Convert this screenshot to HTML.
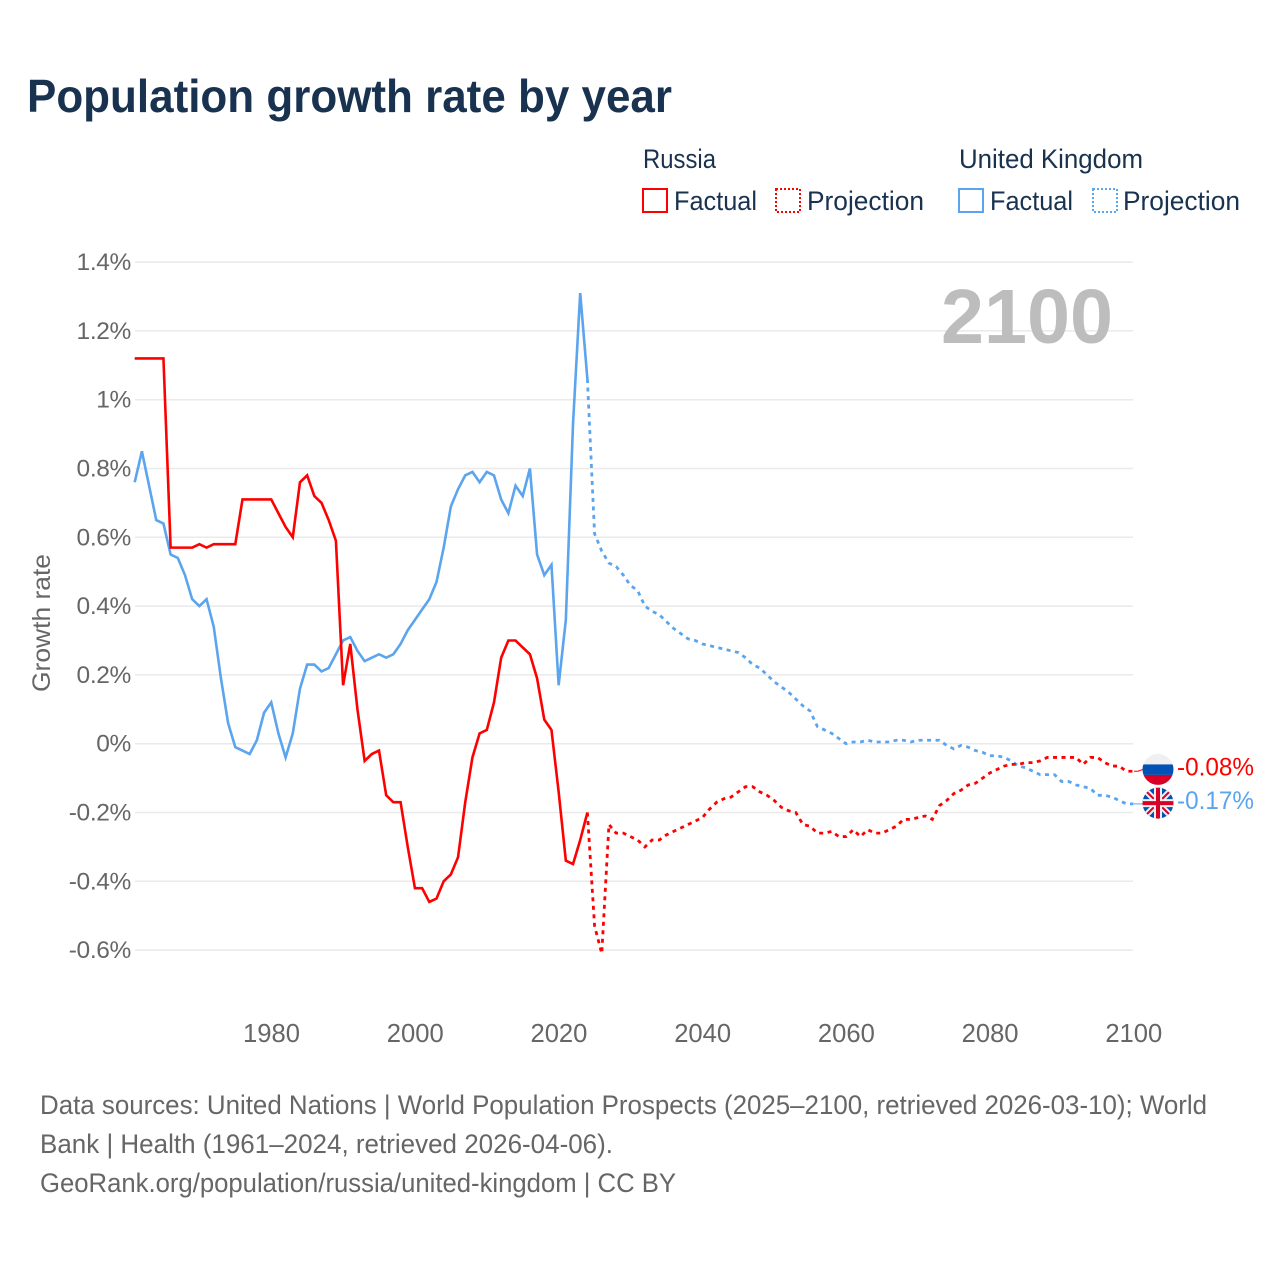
<!DOCTYPE html>
<html lang="en">
<head>
<meta charset="utf-8">
<title>Population growth rate by year</title>
<style>
html,body{margin:0;padding:0;background:#fff;}
svg{display:block;font-family:"Liberation Sans",sans-serif;}
</style>
</head>
<body>
<svg id="chart" width="1280" height="1280" viewBox="0 0 1280 1280" xmlns="http://www.w3.org/2000/svg">
  <defs>
    <clipPath id="flag-clip-ru"><circle cx="0" cy="0" r="15.5"/></clipPath>
    <clipPath id="flag-clip-uk"><circle cx="0" cy="0" r="15.5"/></clipPath>
  </defs>
  <rect width="1280" height="1280" fill="#ffffff"/>
  <text x="27" y="112" font-size="46" font-weight="700" fill="#18324f" textLength="645" lengthAdjust="spacingAndGlyphs">Population growth rate by year</text>

  <g font-size="27" fill="#18324f">
    <text x="643" y="168" textLength="73" lengthAdjust="spacingAndGlyphs">Russia</text>
    <text x="959" y="168" textLength="184" lengthAdjust="spacingAndGlyphs">United Kingdom</text>
    <rect x="643" y="189" width="24" height="23" fill="none" stroke="#ff0000" stroke-width="2"/>
    <text x="674" y="210" textLength="83" lengthAdjust="spacingAndGlyphs">Factual</text>
    <rect x="776" y="189" width="24" height="23" fill="none" stroke="#ff0000" stroke-width="2" stroke-dasharray="2 2"/>
    <text x="807" y="210" textLength="117" lengthAdjust="spacingAndGlyphs">Projection</text>
    <rect x="959" y="189" width="24" height="23" fill="none" stroke="#5ba4ee" stroke-width="2"/>
    <text x="990" y="210" textLength="83" lengthAdjust="spacingAndGlyphs">Factual</text>
    <rect x="1093" y="189" width="24" height="23" fill="none" stroke="#5ba4ee" stroke-width="2" stroke-dasharray="2 2"/>
    <text x="1123" y="210" textLength="117" lengthAdjust="spacingAndGlyphs">Projection</text>
  </g>

  <g id="grid"></g>
  <g id="y-ticks"></g>
  <g id="x-ticks"></g>
  <text transform="translate(50,623) rotate(-90)" text-anchor="middle" font-size="25" fill="#666666" textLength="138" lengthAdjust="spacingAndGlyphs">Growth rate</text>
  <text x="1113" y="343" text-anchor="end" font-size="77" font-weight="700" fill="#bdbdbd" textLength="172" lengthAdjust="spacingAndGlyphs">2100</text>

  <g id="series"></g>

  <g id="flag-russia">
    <g clip-path="url(#flag-clip-ru)">
      <rect x="-16" y="-16" width="32" height="11" fill="#f0f0f0"/>
      <rect x="-16" y="-5" width="32" height="10.5" fill="#0052b4"/>
      <rect x="-16" y="5.5" width="32" height="11" fill="#d80027"/>
    </g>
  </g>
  <g id="flag-uk">
    <g clip-path="url(#flag-clip-uk)">
      <rect x="-16" y="-16" width="32" height="32" fill="#0052b4"/>
      <path d="M-16-16L16 16M16-16L-16 16" stroke="#f0f0f0" stroke-width="6"/>
      <path d="M-16-16L16 16M16-16L-16 16" stroke="#d80027" stroke-width="2"/>
      <path d="M0-16V16M-16 0H16" stroke="#f0f0f0" stroke-width="8"/>
      <path d="M0-16V16M-16 0H16" stroke="#d80027" stroke-width="4"/>
    </g>
  </g>
  <text id="end-label-russia" x="1177" y="775" font-size="25" fill="#ff0000" textLength="77" lengthAdjust="spacingAndGlyphs"></text>
  <text id="end-label-uk" x="1177" y="809" font-size="25" fill="#5ba4ee" textLength="77" lengthAdjust="spacingAndGlyphs"></text>

  <g font-size="26.5" fill="#666666">
    <text x="40" y="1114" textLength="1167" lengthAdjust="spacingAndGlyphs">Data sources: United Nations | World Population Prospects (2025–2100, retrieved 2026-03-10); World</text>
    <text x="40" y="1153" textLength="573" lengthAdjust="spacingAndGlyphs">Bank | Health (1961–2024, retrieved 2026-04-06).</text>
    <text x="40" y="1192" textLength="636" lengthAdjust="spacingAndGlyphs">GeoRank.org/population/russia/united-kingdom | CC BY</text>
  </g>
</svg>
<script>
const factualStartYear = 1961;
const projectionStartYear = 2024;
const yTickValues = [-0.6, -0.4, -0.2, 0, 0.2, 0.4, 0.6, 0.8, 1, 1.2, 1.4];
const yTickLabels = ["-0.6%", "-0.4%", "-0.2%", "0%", "0.2%", "0.4%", "0.6%", "0.8%", "1%", "1.2%", "1.4%"];
const xTickYears = [1980, 2000, 2020, 2040, 2060, 2080, 2100];
const russiaFactual = [1.12,1.12,1.12,1.12,1.12,0.57,0.57,0.57,0.57,0.58,0.57,0.58,0.58,0.58,0.58,0.71,0.71,0.71,0.71,0.71,
  0.67,0.63,0.60,0.76,0.78,0.72,0.70,0.65,0.59,0.17,0.29,0.10,-0.05,-0.03,-0.02,-0.15,-0.17,-0.17,-0.30,-0.42,
  -0.42,-0.46,-0.45,-0.40,-0.38,-0.33,-0.17,-0.04,0.03,0.04,0.12,0.25,0.30,0.30,0.28,0.26,0.19,0.07,0.04,-0.14,
  -0.34,-0.35,-0.28,-0.20];
const ukFactual = [0.76,0.85,0.75,0.65,0.64,0.55,0.54,0.49,0.42,0.40,0.42,0.34,0.19,0.06,-0.01,-0.02,-0.03,0.01,0.09,0.12,
  0.03,-0.04,0.03,0.16,0.23,0.23,0.21,0.22,0.26,0.30,0.31,0.27,0.24,0.25,0.26,0.25,0.26,0.29,0.33,0.36,
  0.39,0.42,0.47,0.57,0.69,0.74,0.78,0.79,0.76,0.79,0.78,0.71,0.67,0.75,0.72,0.80,0.55,0.49,0.52,0.17,
  0.36,0.93,1.31,1.06];
const russiaProjection = [-0.20,-0.53,-0.61,-0.235,-0.26,-0.26,-0.27,-0.28,-0.30,-0.28,-0.28,-0.265,-0.255,-0.245,-0.235,-0.225,-0.215,
  -0.19,-0.17,-0.16,-0.155,-0.14,-0.125,-0.125,-0.14,-0.15,-0.165,-0.185,-0.195,-0.20,-0.235,-0.24,-0.26,-0.26,-0.255,-0.27,-0.27,
  -0.25,-0.27,-0.25,-0.26,-0.26,-0.25,-0.24,-0.22,-0.22,-0.215,-0.21,-0.22,-0.18,-0.165,-0.145,-0.135,-0.12,-0.115,-0.10,-0.085,
  -0.075,-0.065,-0.06,-0.06,-0.055,-0.055,-0.05,-0.04,-0.04,-0.04,-0.04,-0.04,-0.06,-0.04,-0.04,-0.055,-0.065,-0.065,-0.08,-0.08];
const ukProjection = [1.06,0.61,0.56,0.525,0.515,0.49,0.46,0.445,0.40,0.385,0.375,0.355,0.335,0.32,0.305,0.30,0.29,
  0.285,0.28,0.275,0.27,0.265,0.25,0.23,0.22,0.20,0.18,0.165,0.15,0.13,0.11,0.095,0.05,0.04,0.03,0.015,0,
  0.005,0.005,0.01,0.005,0.005,0.005,0.01,0.01,0.005,0.01,0.01,0.01,0.01,-0.005,-0.015,-0.005,-0.01,-0.02,-0.025,-0.035,
  -0.035,-0.04,-0.05,-0.065,-0.07,-0.08,-0.09,-0.09,-0.09,-0.11,-0.11,-0.12,-0.125,-0.13,-0.15,-0.15,-0.155,-0.165,-0.175,-0.175];
const russiaEndLabel = "-0.08%";
const ukEndLabel = "-0.17%";

const SVG_NS = "http://www.w3.org/2000/svg";
const RED = "#ff0000";
const BLUE = "#5ba4ee";

function xScale(year) {
  return 134.7 + (year - 1961) * (1133.5 - 134.7) / (2100 - 1961);
}
function yScale(value) {
  return 743.7 - value * 344;
}
function linePath(startYear, values) {
  return values.map(function (v, i) {
    return (i ? "L" : "M") + xScale(startYear + i).toFixed(2) + " " + yScale(v).toFixed(2);
  }).join("");
}
function make(tag, attrs, parent) {
  const el = document.createElementNS(SVG_NS, tag);
  Object.keys(attrs).forEach(function (k) { el.setAttribute(k, attrs[k]); });
  parent.appendChild(el);
  return el;
}

const gridGroup = document.getElementById("grid");
const yTickGroup = document.getElementById("y-ticks");
yTickValues.forEach(function (v, i) {
  const line = make("line", { x1: 135, x2: 1133, y1: yScale(v), y2: yScale(v), stroke: "#eaeaea", "stroke-width": 1.5 }, gridGroup);
  
  
  const label = make("text", { x: 131, y: yScale(v) + 8, "text-anchor": "end", "font-size": 24.5, "letter-spacing": "-0.35", fill: "#666666" }, yTickGroup);
  
  
  label.textContent = yTickLabels[i];
});

const xTickGroup = document.getElementById("x-ticks");
xTickYears.forEach(function (year) {
  const label = make("text", { x: xScale(year) + 0.3, y: 1042, "text-anchor": "middle", "font-size": 25.6, fill: "#666666" }, xTickGroup);
  
  
  label.textContent = String(year);
});

const seriesGroup = document.getElementById("series");
const ukFactualLine = make("path", { d: linePath(factualStartYear, ukFactual), fill: "none", stroke: BLUE, "stroke-width": 2.6, "stroke-linejoin": "miter" }, seriesGroup);


const ukProjectionLine = make("path", { d: linePath(projectionStartYear, ukProjection), fill: "none", stroke: BLUE, "stroke-width": 2.8, "stroke-dasharray": "4 4.5" }, seriesGroup);


const russiaFactualLine = make("path", { d: linePath(factualStartYear, russiaFactual), fill: "none", stroke: RED, "stroke-width": 2.6, "stroke-linejoin": "miter" }, seriesGroup);


const russiaProjectionLine = make("path", { d: linePath(projectionStartYear, russiaProjection), fill: "none", stroke: RED, "stroke-width": 2.8, "stroke-dasharray": "4 4.5" }, seriesGroup);



const russiaEndY = yScale(russiaProjection[russiaProjection.length - 1]);
const ukEndY = yScale(ukProjection[ukProjection.length - 1]);
const russiaFlagY = russiaEndY - 1.8;
const ukFlagY = ukEndY - 0.8;
const russiaConnector = make("path", { d: "M1134 " + russiaEndY + "H1138L1143 " + russiaFlagY, fill: "none", stroke: RED, "stroke-width": 1 }, seriesGroup);


const ukConnector = make("path", { d: "M1134 " + ukEndY + "H1143", fill: "none", stroke: BLUE, "stroke-width": 1 }, seriesGroup);


document.getElementById("flag-russia").setAttribute("transform", "translate(1158," + russiaFlagY + ")");
document.getElementById("flag-uk").setAttribute("transform", "translate(1158," + ukFlagY + ")");
const russiaLabel = document.getElementById("end-label-russia");
russiaLabel.setAttribute("y", russiaFlagY + 6);
russiaLabel.textContent = russiaEndLabel;
const ukLabel = document.getElementById("end-label-uk");
ukLabel.setAttribute("y", ukFlagY + 6);
ukLabel.textContent = ukEndLabel;
</script>
</body>
</html>
